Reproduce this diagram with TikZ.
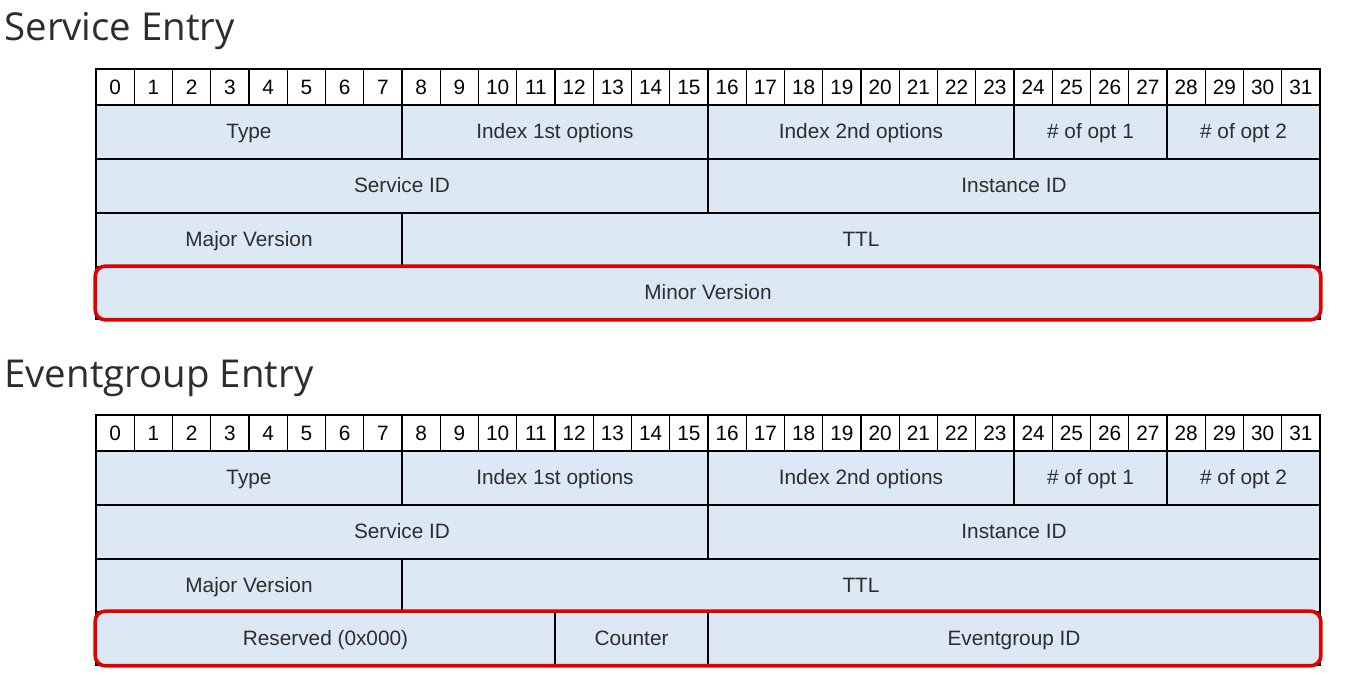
\documentclass[tikz,border=0pt]{standalone}
\usepackage{fontspec}
\setmainfont{Liberation Sans}
\newfontfamily\titlefont{Open Sans}
\usetikzlibrary{positioning}
\usetikzlibrary{fit}
\definecolor{cellblue}{RGB}{221,232,245}
\definecolor{markred}{RGB}{225,0,0}
\definecolor{inkgray}{RGB}{45,45,45}

\begin{document}
\begin{tikzpicture}[
  x=0.5pt, y=-0.5pt,
  font=\fontsize{10.4}{12}\selectfont,
  bit/.style={draw, fill=white, anchor=north west, outer sep=0pt, inner sep=0pt, minimum width=19.125pt, minimum height=18pt, line width=0.7pt},
  field/.style={draw, fill=cellblue, anchor=north west, outer sep=0pt, inner sep=0pt, minimum height=27pt, text height=7.5pt, text depth=0.5pt, line width=0.7pt, text=inkgray},
  hilite/.style={draw=markred, line width=1.8pt, rounded corners=5pt, inner sep=0.4pt},
  title/.style={anchor=base west, inner sep=0pt, text=inkgray, font=\titlefont\fontsize{19.2}{23}\selectfont}
]
\useasboundingbox (0,0) rectangle (1345,683);

% Titles
\node[title] (s-title) at (4,41) {Service Entry};
\node[title] (e-title) at (4,388) {Eventgroup Entry};

% Bit numbers
\foreach \i in {0,...,31} {
  \node[bit] (s-b\i) at ({96+38.25*\i},69) {\i};
  \node[bit] (e-b\i) at ({96+38.25*\i},415) {\i};
}

% Service entry fields
\node[field, minimum width=153pt] (s-type) at (96,105) {Type};
\node[field, minimum width=153pt] (s-idx1) at (402,105) {Index 1st options};
\node[field, minimum width=153pt] (s-idx2) at (708,105) {Index 2nd options};
\node[field, minimum width=76.5pt] (s-nopt1) at (1014,105) {\# of opt 1};
\node[field, minimum width=76.5pt] (s-nopt2) at (1167,105) {\# of opt 2};
\node[field, minimum width=306pt] (s-svc) at (96,159) {Service ID};
\node[field, minimum width=306pt] (s-inst) at (708,159) {Instance ID};
\node[field, minimum width=153pt] (s-major) at (96,213) {Major Version};
\node[field, minimum width=459pt] (s-ttl) at (402,213) {TTL};
\node[field, minimum width=612pt, minimum height=26pt] (s-minor) at (96,267) {Minor Version};

% Eventgroup entry fields
\node[field, minimum width=153pt] (e-type) at (96,451) {Type};
\node[field, minimum width=153pt] (e-idx1) at (402,451) {Index 1st options};
\node[field, minimum width=153pt] (e-idx2) at (708,451) {Index 2nd options};
\node[field, minimum width=76.5pt] (e-nopt1) at (1014,451) {\# of opt 1};
\node[field, minimum width=76.5pt] (e-nopt2) at (1167,451) {\# of opt 2};
\node[field, minimum width=306pt] (e-svc) at (96,505) {Service ID};
\node[field, minimum width=306pt] (e-inst) at (708,505) {Instance ID};
\node[field, minimum width=153pt] (e-major) at (96,559) {Major Version};
\node[field, minimum width=459pt] (e-ttl) at (402,559) {TTL};
\node[field, minimum width=229.5pt, minimum height=26.5pt] (e-rsvd) at (96,612) {Reserved (0x000)};
\node[field, minimum width=76.5pt, minimum height=26.5pt] (e-cnt) at (555,612) {Counter};
\node[field, minimum width=306pt, minimum height=26.5pt] (e-egid) at (708,612) {Eventgroup ID};

% Highlights
\node[hilite, fit=(s-minor)] (s-mark) {};
\node[hilite, fit=(e-rsvd) (e-egid)] (e-mark) {};

\end{tikzpicture}
\end{document}
